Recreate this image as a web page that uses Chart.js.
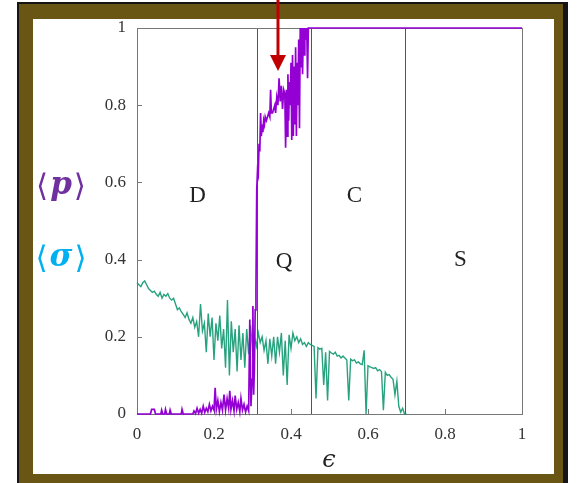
<!DOCTYPE html>
<html>
<head>
<meta charset="utf-8">
<script src="https://cdn.jsdelivr.net/npm/chart.js@4.4.1/dist/chart.umd.min.js"></script>
<style>
html,body{margin:0;padding:0;background:#fff;}
#wrap{position:relative;width:580px;height:483px;}
</style>
</head>
<body>
<div id="wrap"><canvas id="phase_chart" width="580" height="483"></canvas></div>
<script>
// <p> : fraction
var pEps = [0,0.035,0.038,0.045,0.048,0.062,0.064,0.067,0.072,0.074,0.077,0.084,0.086,0.089,0.115,0.117,0.12,
	0.145,0.148,0.152,0.156,0.16,0.164,0.168,0.172,0.176,0.18,0.184,0.188,0.192,0.196,0.2,0.203,0.206,0.21,
	0.214,0.218,0.222,0.226,0.23,0.234,0.238,0.241,0.244,0.248,0.252,0.255,0.259,0.263,0.267,0.27,0.274,
	0.278,0.282,0.286,0.29,0.293,0.296,0.299,0.301,0.303,0.305,0.307,0.309,0.311,0.313,0.315,0.317,0.319,
	0.321,0.323,0.325,0.327,0.329,0.331,0.333,0.336,0.339,0.342,0.345,0.347,0.349,0.352,0.355,0.358,0.36,
	0.363,0.366,0.369,0.372,0.375,0.378,0.381,0.384,0.386,0.388,0.39,0.392,0.394,0.396,0.398,0.4,0.402,0.404,
	0.406,0.408,0.41,0.412,0.414,0.416,0.418,0.42,0.422,0.424,0.426,0.428,0.43,0.432,0.434,0.436,0.438,0.441,
	0.443,0.445,0.447,1];
var pVals = [0,0,0.012,0.012,0,0,0.01,0,0,0.012,0,0,0.01,0,0,0.012,0,
	0,0.008,0.001,0.015,0.002,0.012,0.002,0.02,0.004,0.015,0.006,0.025,0.008,0.02,0.01,0.068,0.012,0.035,
	0.006,0.03,0.01,0.05,0.01,0.04,0.015,0.06,0.012,0.035,0.008,0.048,0.012,0.03,0.006,0.04,0.01,
	0.025,0.005,0.02,0.008,0.245,0.02,0.09,0.28,0.05,0.12,0.27,0.32,0.58,0.63,0.62,0.7,0.68,
	0.78,0.72,0.75,0.73,0.76,0.75,0.77,0.76,0.77,0.78,0.77,0.84,0.78,0.78,0.79,0.8,0.78,
	0.82,0.8,0.87,0.81,0.85,0.79,0.84,0.83,0.69,0.84,0.72,0.88,0.76,0.86,0.8,0.91,0.71,0.93,
	0.72,0.9,0.75,0.95,0.72,0.91,0.8,0.97,0.74,1,0.9,1,0.88,1,0.93,1,0.97,1,
	0.87,1,1,1];

// <sigma>, every 0.005
var sigmaEps = [];
for (var k = 0; k <= 140; k++) { sigmaEps.push(k / 200); }
var sigmaVals = [0.34,0.335,0.33,0.34,0.345,0.335,0.325,0.32,0.315,0.318,0.31,0.305,0.315,0.3,0.31,0.305,
	0.312,0.3,0.295,0.3,0.285,0.27,0.275,0.265,0.258,0.25,0.262,0.245,0.235,0.25,0.225,0.24,0.2,0.285,
	0.215,0.235,0.16,0.26,0.2,0.25,0.14,0.235,0.19,0.255,0.17,0.22,0.12,0.295,0.1,0.24,0.16,0.22,0.11,
	0.23,0.14,0.21,0.12,0.22,0.155,0.23,0.165,0.2,0.175,0.21,0.185,0.2,0.165,0.19,0.13,0.195,0.15,0.2,
	0.13,0.2,0.16,0.21,0.1,0.19,0.075,0.205,0.17,0.21,0.19,0.2,0.185,0.195,0.18,0.185,0.175,0.185,0.18,
	0.178,0.175,0.04,0.172,0.168,0.17,0.075,0.16,0.035,0.162,0.158,0.155,0.16,0.15,0.152,0.145,0.15,
	0.145,0.14,0.035,0.142,0.138,0.14,0.132,0.135,0.13,0.128,0.165,0,0.125,0.122,0.12,0.118,0.12,0.112,
	0.115,0.11,0.01,0.108,0.1,0.102,0.095,0.09,0.05,0.085,0.02,0.005,0.015,0,0];

var boundaries = [0.311, 0.451, 0.697];
var regionNames = ['D', 'Q', 'C', 'S'];
var regionX = [0.157, 0.382, 0.565, 0.84];
var regionY = [0.565, 0.395, 0.565, 0.398];
var tickValues = [0, 0.2, 0.4, 0.6, 0.8, 1];
var tickLabels = ['0', '0.2', '0.4', '0.6', '0.8', '1'];

function to_points(xs, ys){
	var pts = [];
	for(var i=0; i<xs.length; i++){
		pts.push({x: xs[i], y: ys[i]});
	}
	return pts;
}

function draw_bracketed(c, letter, cx, cy, color){
	var br = '300 31px "DejaVu Serif"';
	var lt = 'italic bold 31px "DejaVu Serif"';
	c.font = br; var wb = c.measureText('\u27E8').width;
	c.font = lt; var wl = c.measureText(letter).width;
	var x = cx - (2*wb + wl + 4)/2;
	c.fillStyle = color;
	c.textBaseline = 'middle';
	c.textAlign = 'left';
	c.font = br; c.fillText('\u27E8', x, cy);
	c.font = lt; c.fillText(letter, x + wb + 2, cy - 2);
	c.font = br; c.fillText('\u27E9', x + wb + wl + 4, cy);
}

var framePlugin = {
	id: 'frame',
	beforeDraw: function(chart){
		var c = chart.ctx;
		c.save();
		c.fillStyle = '#fff'; c.fillRect(0, 0, 580, 483);
		c.fillStyle = '#151515'; c.fillRect(17, 2, 551, 490);
		c.fillStyle = '#695614'; c.fillRect(19, 4, 544, 490);
		c.fillStyle = '#fff'; c.fillRect(33, 19, 521, 455);
		c.restore();
	},
	beforeDatasetsDraw: function(chart){
		var c = chart.ctx, a = chart.chartArea;
		var xs = chart.scales.x, ys = chart.scales.y;
		c.save();
		// phase boundaries
		c.strokeStyle = '#555'; c.lineWidth = 1;
		for(var i=0; i<boundaries.length; i++){
			var px = Math.round(xs.getPixelForValue(boundaries[i])) + 0.5;
			c.beginPath(); c.moveTo(px, a.top); c.lineTo(px, a.bottom); c.stroke();
		}
		// plot box and inner ticks
		c.strokeStyle = '#777';
		c.strokeRect(a.left + 0.5, a.top + 0.5, a.right - a.left, a.bottom - a.top);
		for(var j=1; j<tickValues.length-1; j++){
			var tx = Math.round(xs.getPixelForValue(tickValues[j])) + 0.5;
			c.beginPath(); c.moveTo(tx, a.bottom); c.lineTo(tx, a.bottom - 5); c.stroke();
			var ty = Math.round(ys.getPixelForValue(tickValues[j])) + 0.5;
			c.beginPath(); c.moveTo(a.left, ty); c.lineTo(a.left + 5, ty); c.stroke();
		}
		// region names
		c.fillStyle = '#222';
		c.font = '23px "Liberation Serif"';
		c.textAlign = 'center'; c.textBaseline = 'middle';
		for(var r=0; r<regionNames.length; r++){
			c.fillText(regionNames[r], xs.getPixelForValue(regionX[r]), ys.getPixelForValue(regionY[r]));
		}
		c.restore();
	},
	afterDraw: function(chart){
		var c = chart.ctx;
		c.save();
		// axis label
		c.fillStyle = '#222';
		c.font = 'italic 24px "DejaVu Serif"';
		c.textAlign = 'center'; c.textBaseline = 'middle';
		c.fillText('\u03F5', 329, 461);
		// series labels
		draw_bracketed(c, 'p', 61, 188, '#7030a0');
		draw_bracketed(c, '\u03C3', 61, 260, '#00b0f0');
		// red arrow
		c.strokeStyle = '#c00000'; c.fillStyle = '#c00000'; c.lineWidth = 3;
		c.beginPath(); c.moveTo(278, 0); c.lineTo(278, 57); c.stroke();
		c.beginPath(); c.moveTo(270, 55); c.lineTo(286, 55); c.lineTo(278, 71); c.closePath(); c.fill();
		c.restore();
	}
};

function axis_opts(isX){
	return {
		type: 'linear', min: 0, max: 1,
		afterBuildTicks: function(s){ s.ticks = tickValues.map(function(v){ return {value: v}; }); },
		afterFit: function(s){ if(isX){ s.height = 40; } else { s.width = 60; } },
		grid: {display: false, drawTicks: false},
		border: {display: false},
		ticks: {
			padding: isX ? 10 : 11,
			color: '#333',
			font: {family: 'Liberation Serif', size: 17},
			callback: function(v, idx){ return tickLabels[idx]; }
		}
	};
}

function draw_figure(){
	var ctx = document.getElementById('phase_chart').getContext('2d');
	var data = {datasets: []};
	data.datasets.push({
		label: '<p>',
		data: to_points(pEps, pVals),
		borderColor: '#9400d3',
		borderWidth: 1.7,
		pointRadius: 0,
		tension: 0,
		clip: 4
	});
	data.datasets.push({
		label: '<sigma>',
		data: to_points(sigmaEps, sigmaVals),
		borderColor: 'rgba(16,152,112,0.9)',
		borderWidth: 1.4,
		pointRadius: 0,
		tension: 0,
		clip: 4
	});
	new Chart(ctx, {
		type: 'line',
		data: data,
		plugins: [framePlugin],
		options: {
			responsive: false,
			animation: false,
			layout: {padding: {left: 77, right: 58, top: 28, bottom: 29}},
			plugins: {legend: {display: false}, tooltip: {enabled: false}},
			scales: {x: axis_opts(true), y: axis_opts(false)}
		}
	});
}
draw_figure();
</script>
</body>
</html>
